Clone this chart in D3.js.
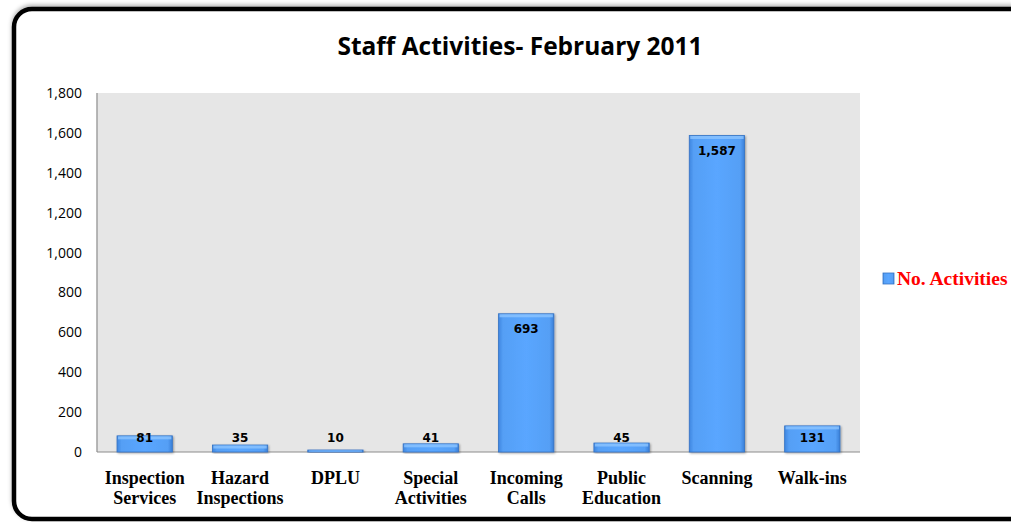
<!DOCTYPE html>
<html><head><meta charset="utf-8">
<script src="https://cdn.jsdelivr.net/npm/d3@7"></script>
<style>body{margin:0;background:#fff;}svg{display:block;}</style>
</head><body>
<script>
const categories = [["Inspection","Services"],["Hazard","Inspections"],["DPLU"],["Special","Activities"],["Incoming","Calls"],["Public","Education"],["Scanning"],["Walk-ins"]];
const values = [81,35,10,41,693,45,1587,131];
const yTicks = [0,200,400,600,800,1000,1200,1400,1600,1800];
const seriesName = "No. Activities";
const title = "Staff Activities- February 2011";

const W=1011,H=522;
const svg=d3.select("body").append("svg").attr("width",W).attr("height",H);
const defs=svg.append("defs");
const g1=defs.append("linearGradient").attr("id","barH").attr("x1","0").attr("x2","1").attr("y1","0").attr("y2","0");
[["0%","#3f86e0"],["8%","#559ff5"],["50%","#5aa6ff"],["92%","#559ff5"],["100%","#3a7fd8"]].forEach(s=>g1.append("stop").attr("offset",s[0]).attr("stop-color",s[1]));
const f=defs.append("filter").attr("id","sh").attr("x","-20%").attr("y","-20%").attr("width","140%").attr("height","140%");
f.append("feDropShadow").attr("dx",1).attr("dy",1).attr("stdDeviation",1.2).attr("flood-color","#000").attr("flood-opacity",0.35);
const fb=defs.append("filter").attr("id","shb").attr("x","-5%").attr("y","-5%").attr("width","110%").attr("height","110%");
fb.append("feDropShadow").attr("dx",0).attr("dy",-2).attr("stdDeviation",2).attr("flood-color","#000").attr("flood-opacity",0.3);

// outer frame
svg.append("rect").attr("x",14).attr("y",9).attr("width",1020).attr("height",510).attr("rx",18)
  .attr("fill","#fff").attr("stroke","#000").attr("stroke-width",4.5).attr("filter","url(#shb)");

const x0=97,x1=860,yTop=93,yBot=452;
const x=d3.scaleBand().domain(d3.range(values.length)).range([x0,x1]).paddingInner(0.42).paddingOuter(0.21);
const y=d3.scaleLinear().domain([0,1800]).range([yBot,yTop]);

svg.append("rect").attr("x",x0).attr("y",yTop).attr("width",x1-x0).attr("height",yBot-yTop).attr("fill","#e6e6e6");
svg.append("line").attr("x1",x0).attr("x2",x0).attr("y1",yTop).attr("y2",yBot).attr("stroke","#a0a0a0").attr("stroke-width",1.5);
svg.append("line").attr("x1",x0).attr("x2",x1).attr("y1",yBot).attr("y2",yBot).attr("stroke","#8c8c8c").attr("stroke-width",1.2);

const yAxis=svg.append("g").attr("transform",`translate(${x0},0)`).call(d3.axisLeft(y).tickValues(yTicks).tickSize(0).tickPadding(15).tickFormat(d3.format(",")));
yAxis.select(".domain").remove();
yAxis.selectAll("text").attr("font-family","'Open Sans', sans-serif").attr("font-size",14).attr("fill","#000");

const bars=svg.append("g");
values.forEach((v,i)=>{
  const bx=x(i),bw=x.bandwidth(),by=y(v),bh=yBot-y(v);
  bars.append("rect").attr("x",bx).attr("y",by).attr("width",bw).attr("height",Math.max(bh,2)).attr("fill","url(#barH)")
    .attr("stroke","#3573c4").attr("stroke-width",0.8).attr("filter","url(#sh)");
  bars.append("rect").attr("x",bx+1).attr("y",by+0.5).attr("width",bw-2).attr("height",Math.min(3,Math.max(bh-1,1))).attr("fill","#8cc4ff").attr("opacity",0.8);
  bars.append("text").attr("x",bx+bw/2).attr("y",Math.min(by+15,438)).attr("dy","0.35em").attr("text-anchor","middle")
    .attr("font-family","'DejaVu Sans', Verdana, sans-serif").attr("font-weight","bold").attr("font-size",12).attr("fill","#000")
    .text(d3.format(",")(v));
});

const xl=svg.append("g");
categories.forEach((c,i)=>{
  const t=xl.append("text").attr("x",x(i)+x.bandwidth()/2).attr("y",484).attr("text-anchor","middle")
    .attr("font-family","'Liberation Serif', 'Times New Roman', serif").attr("font-weight","bold").attr("font-size",18).attr("fill","#000");
  c.forEach((ln,j)=>t.append("tspan").attr("x",x(i)+x.bandwidth()/2).attr("dy",j===0?0:20).text(ln));
});

svg.append("text").attr("x",520).attr("y",55).attr("text-anchor","middle").attr("font-family","'Open Sans', sans-serif")
  .attr("font-weight","bold").attr("font-size",24.5).attr("fill","#000").text(title);

svg.append("rect").attr("x",883).attr("y",273).attr("width",11).attr("height",11).attr("fill","url(#barH)").attr("stroke","#3573c4").attr("stroke-width",0.8);
svg.append("text").attr("x",897).attr("y",285).attr("font-family","'Liberation Serif', 'Times New Roman', serif")
  .attr("font-weight","bold").attr("font-size",19.5).attr("fill","#ff0000").text(seriesName);
</script>
</body></html>
